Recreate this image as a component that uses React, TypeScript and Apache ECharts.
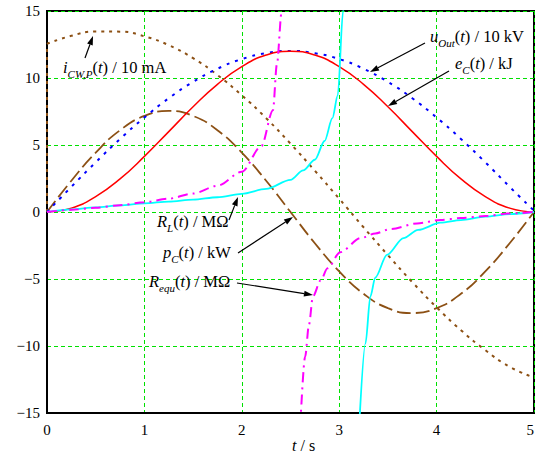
import React, { useEffect, useRef } from 'react';
import * as echarts from 'echarts';

const FONT = 'Liberation Serif, Times New Roman, serif';

// sampled time axis (s)
const T = [0, 0.25, 0.5, 0.75, 1, 1.25, 1.5, 1.75, 2, 2.25, 2.5, 2.75, 3, 3.25, 3.5, 3.75, 4, 4.25, 4.5, 4.75, 5];
// e_C(t) / kJ
const eC = [0, 0.29, 1.15, 2.47, 4.15, 6.0, 7.85, 9.53, 10.85, 11.71, 12, 11.71, 10.85, 9.53, 7.85, 6.0, 4.15, 2.47, 1.15, 0.29, 0];
// u_Out(t) / 10 kV
const uOut = [0, 1.88, 3.71, 5.45, 7.05, 8.49, 9.71, 10.69, 11.41, 11.85, 12.02, 11.85, 11.41, 10.69, 9.71, 8.49, 7.05, 5.45, 3.71, 1.88, 0.1];
// p_C(t) / kW
const pC = [0, 2.33, 4.43, 6.1, 7.17, 7.54, 7.17, 6.1, 4.43, 2.33, 0, -2.33, -4.43, -6.1, -7.17, -7.54, -7.17, -6.1, -4.43, -2.33, 0];
// i_CW,P(t) / 10 mA
const iJumpT = [0, 0];
const iJump = [0, 12.55];
const iCW = [12.55, 13.15, 13.47, 13.46, 13.11, 12.45, 11.48, 10.22, 8.71, 7.0, 5.1, 3.08, 0.99, -1.14, -3.22, -5.23, -7.11, -8.82, -10.31, -11.55, -12.35];
// R_L(t) / MOhm (two branches)
const rlT1 = [0, 0.25, 0.5, 0.75, 1, 1.25, 1.5, 1.75, 2, 2.25, 2.5, 2.63, 2.75, 2.85, 2.93, 2.985, 3.04, 3.045];
const rl1 = [0, 0.2, 0.35, 0.5, 0.65, 0.78, 0.92, 1.1, 1.35, 1.72, 2.4, 3.1, 3.9, 5.3, 7.0, 8.7, 15, 16];
const rlT2 = [3.205, 3.27, 3.32, 3.37, 3.49, 3.66, 3.81, 4.04, 4.25, 4.5, 4.75, 5];
const rl2 = [-16, -9.8, -6.3, -4.9, -3.2, -1.95, -1.34, -0.8, -0.6, -0.35, -0.16, 0];
// R_equ(t) / MOhm (two branches)
const rqT1 = [0, 0.25, 0.5, 0.75, 1, 1.25, 1.5, 1.75, 2, 2.2, 2.32, 2.36, 2.41, 2.43];
const rq1 = [0, 0.16, 0.32, 0.51, 0.73, 1.0, 1.38, 1.96, 3.0, 4.9, 7.6, 11, 15, 17];
const rqT2 = [2.6, 2.65, 2.69, 2.73, 2.81, 2.88, 3.01, 3.22, 3.37, 3.53, 3.8, 4.04, 4.25, 4.5, 4.73, 5];
const rq2 = [-16, -10.8, -8.4, -6.3, -5.1, -4.2, -3.0, -1.95, -1.6, -1.27, -0.85, -0.6, -0.45, -0.3, -0.12, 0];

const xTicks = [0, 1, 2, 3, 4, 5];
const yTicks = [-15, -10, -5, 0, 5, 10, 15];

const pairs = (xs: number[], ys: number[]) => xs.map((x, k) => [x, ys[k]]);

const BROWN = '#8c5014';

const rich: any = {
  i: { fontFamily: FONT, fontSize: 16.5, fontStyle: 'italic', lineHeight: 24, fill: '#000' },
  r: { fontFamily: FONT, fontSize: 16.5, lineHeight: 24, fill: '#000' },
  s: { fontFamily: FONT, fontSize: 11, fontStyle: 'italic', lineHeight: 11, verticalAlign: 'bottom', fill: '#000' },
  ti: { fontFamily: FONT, fontSize: 16, fontStyle: 'italic', lineHeight: 16, fill: '#000' },
  tr: { fontFamily: FONT, fontSize: 16, lineHeight: 16, fill: '#000' },
};

const label = (x: number, y: number, text: string) => ({
  type: 'text',
  x,
  y,
  z: 100,
  style: { text, rich, fill: '#000', fontFamily: FONT, fontSize: 16, verticalAlign: 'top', align: 'left' },
});

const arrow = (x1: number, y1: number, x2: number, y2: number) => {
  const dx = x2 - x1;
  const dy = y2 - y1;
  const len = Math.sqrt(dx * dx + dy * dy);
  const ux = dx / len;
  const uy = dy / len;
  const hl = 9;
  const hw = 3;
  const bx = x2 - ux * hl;
  const by = y2 - uy * hl;
  return [
    { type: 'line', z: 100, shape: { x1, y1, x2: bx, y2: by }, style: { stroke: '#000', lineWidth: 1.2 } },
    {
      type: 'polygon',
      z: 100,
      shape: { points: [[x2, y2], [bx - uy * hw, by + ux * hw], [bx + uy * hw, by - ux * hw]] },
      style: { fill: '#000' },
    },
  ];
};

export default function App() {
  const ref = useRef<HTMLDivElement>(null);
  useEffect(() => {
    const chart = echarts.init(ref.current!, null, { renderer: 'svg' });
    const gridLine = { show: true, lineStyle: { color: '#00e000', type: [4, 3] as any, width: 1 } };
    const option: any = {
      animation: false,
      grid: {
        left: 47, right: 1, top: 11, bottom: 40, show: true, borderColor: '#000', borderWidth: 2,
        backgroundColor: 'transparent', containLabel: false, outerBoundsMode: 'none',
      },
      xAxis: {
        type: 'value',
        min: xTicks[0],
        max: xTicks[xTicks.length - 1],
        interval: 1,
        axisLine: { show: true, onZero: false, lineStyle: { color: '#000', width: 2 } },
        axisTick: { show: false },
        axisLabel: { color: '#000', fontFamily: FONT, fontSize: 15, margin: 9, showMaxLabel: true, alignMaxLabel: 'right' },
        splitLine: gridLine,
      },
      yAxis: {
        type: 'value',
        min: yTicks[0],
        max: yTicks[yTicks.length - 1],
        interval: 5,
        axisLine: { show: true, onZero: false, lineStyle: { color: '#000', width: 2 } },
        axisTick: { show: false },
        axisLabel: {
          color: '#000',
          fontFamily: FONT,
          fontSize: 15,
          margin: 7,
          formatter: (v: number) => (v < 0 ? '\u2212' + Math.abs(v) : String(v)),
        },
        splitLine: gridLine,
      },
      series: [
        {
          type: 'line', name: 'iCWjump', data: pairs(iJumpT, iJump), showSymbol: false, silent: true,
          lineStyle: { color: BROWN, width: 2, type: [3, 5] },
        },
        {
          type: 'line', name: 'iCW', data: pairs(T, iCW), showSymbol: false, smooth: true,
          lineStyle: { color: BROWN, width: 2, type: [3, 5] },
        },
        {
          type: 'line', name: 'pC', data: pairs(T, pC), showSymbol: false, smooth: true,
          lineStyle: { color: BROWN, width: 1.8, type: [14, 5] },
        },
        {
          type: 'line', name: 'uOut', data: pairs(T, uOut), showSymbol: false, smooth: true,
          lineStyle: { color: '#0000ff', width: 2, type: [3, 6] },
        },
        {
          type: 'line', name: 'eC', data: pairs(T, eC), showSymbol: false, smooth: true,
          lineStyle: { color: '#ff0000', width: 1.5, type: 'solid' },
        },
        {
          type: 'line', name: 'RL1', data: pairs(rlT1, rl1), showSymbol: false, smooth: 0.3, smoothMonotone: 'x',
          lineStyle: { color: '#00ffff', width: 1.8 },
        },
        {
          type: 'line', name: 'RL2', data: pairs(rlT2, rl2), showSymbol: false, smooth: 0.3, smoothMonotone: 'x',
          lineStyle: { color: '#00ffff', width: 1.8 },
        },
        {
          type: 'line', name: 'Rq1', data: pairs(rqT1, rq1), showSymbol: false, smooth: 0.3, smoothMonotone: 'x',
          lineStyle: { color: '#ff00ff', width: 2, type: [10, 5, 2, 5] },
        },
        {
          type: 'line', name: 'Rq2', data: pairs(rqT2, rq2), showSymbol: false, smooth: 0.3, smoothMonotone: 'x',
          lineStyle: { color: '#ff00ff', width: 2, type: [10, 5, 2, 5] },
        },
      ],
      graphic: [
        label(63, 55, '{i|i}{s|CW,P}{r|(}{i|t}{r|) / 10 mA}'),
        label(430, 24, '{i|u}{s|Out}{r|(}{i|t}{r|) / 10 kV}'),
        label(455, 51, '{i|e}{s|C}{r|(}{i|t}{r|) / kJ}'),
        label(157, 209, '{i|R}{s|L}{r|(}{i|t}{r|) / M\u03a9}'),
        label(163, 240, '{i|p}{s|C}{r|(}{i|t}{r|) / kW}'),
        label(149, 269, '{i|R}{s|equ}{r|(}{i|t}{r|) / M\u03a9}'),
        label(292, 437, '{ti|t}{tr| / s}'),
        ...arrow(85, 58, 93, 36),
        ...arrow(425, 43, 370, 72),
        ...arrow(449, 71, 388, 106),
        ...arrow(229, 220, 238, 197),
        ...arrow(238, 253, 293, 217),
        ...arrow(237, 283, 313, 295),
      ],
    };
    chart.setOption(option);
    return () => chart.dispose();
  }, []);
  return <div ref={ref} style={{ position: 'absolute', left: 0, top: 0, width: 535, height: 453 }} />;
}
